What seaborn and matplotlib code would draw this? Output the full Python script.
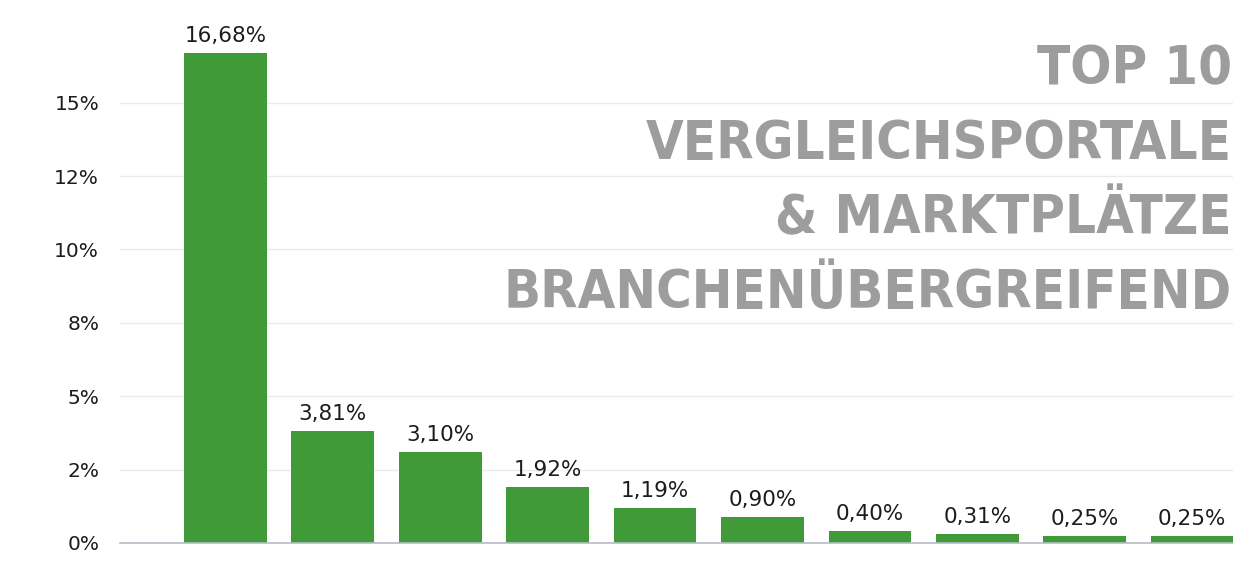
import matplotlib
matplotlib.use("Agg")
import matplotlib.pyplot as plt
import pandas as pd
import seaborn as sns

# --- Daten ---
rang = [1, 2, 3, 4, 5, 6, 7, 8, 9, 10]
anteil = [16.68, 3.81, 3.10, 1.92, 1.19, 0.90, 0.40, 0.31, 0.25, 0.25]
y_ticks = [0, 2.5, 5, 7.5, 10, 12.5, 15]
titel_zeilen = ["TOP 10", "VERGLEICHSPORTALE", "& MARKTPLÄTZE", "BRANCHENÜBERGREIFEND"]

df = pd.DataFrame({"Rang": rang, "Anteil": anteil})

sns.set_style("white")
plt.rcParams["font.family"] = ["DejaVu Sans"]

W, H = 1233, 563
fig = plt.figure(figsize=(W / 100, H / 100), dpi=100)
ax = fig.add_axes([120 / W, 20 / H, (W - 120) / W, (H - 20) / H])

sns.barplot(data=df, x="Rang", y="Anteil", color="#3f9a37", saturation=1,
            width=0.77, linewidth=0, ax=ax)

ax.set_xlim(-0.98, 9.38)
ax.set_ylim(0, 18.5)
ax.set_yticks(y_ticks)
ax.set_yticklabels([f"{v:.0f}%" for v in y_ticks], fontsize=14.5, color="#1c1c1c")
ax.tick_params(axis="y", length=0, pad=15)
ax.set_xticks([])
ax.set_xlabel("")
ax.set_ylabel("")
ax.yaxis.grid(True, color="#ebebeb", linewidth=1)
ax.set_axisbelow(True)
for s in ["top", "right", "left"]:
    ax.spines[s].set_visible(False)
ax.spines["bottom"].set_color("#b3bcc6")
ax.spines["bottom"].set_linewidth(1.2)

labels = [f"{v:.2f}%".replace(".", ",") for v in anteil]
ax.bar_label(ax.containers[0], labels=labels, padding=5, fontsize=15.5, color="#1c1c1c")

# --- Titel rechts oben, auf Breite angepasst ---
basislinien = [84, 159, 233, 308]
texte = []
for zeile, yb in zip(titel_zeilen, basislinien):
    t = fig.text(1232 / W, 1 - yb / H, zeile, ha="right", va="baseline",
                 fontsize=50, fontweight="bold", fontstretch="condensed",
                 family=["Liberation Sans Narrow", "DejaVu Sans"], color="#9d9d9d")
    texte.append(t)

fig.canvas.draw()
r = fig.canvas.get_renderer()
breite = max(t.get_window_extent(r).width for t in texte)
faktor = 729 / breite
for t in texte:
    t.set_fontsize(50 * faktor)

fig.savefig("out.png", dpi=100)
